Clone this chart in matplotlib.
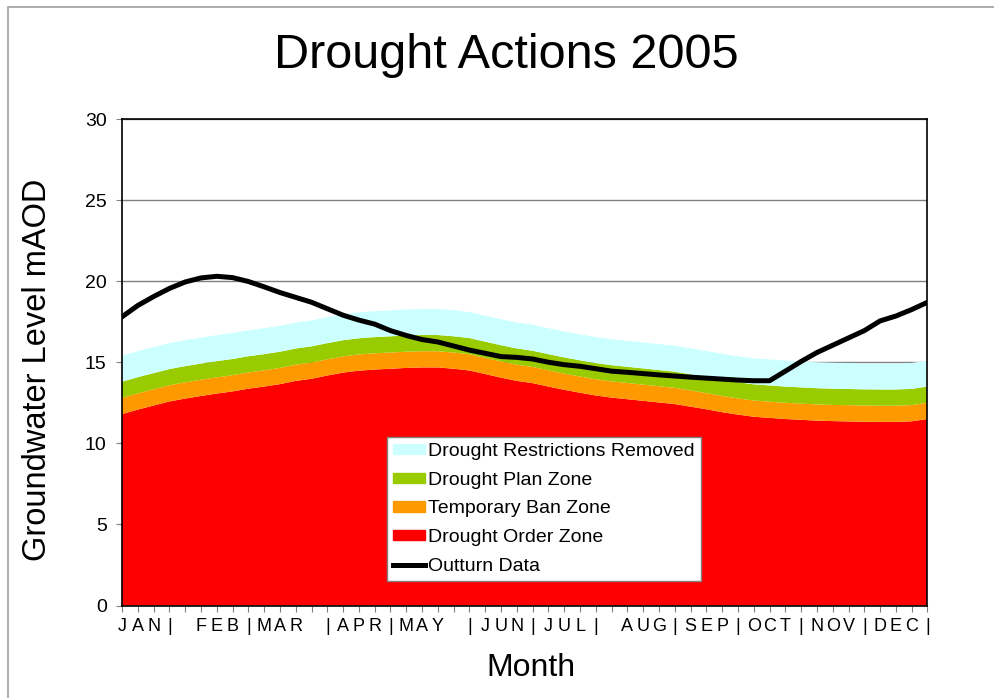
import numpy as np
import matplotlib
matplotlib.use('Agg')
import matplotlib.pyplot as plt
from matplotlib.patches import Patch, Rectangle
from matplotlib.lines import Line2D

plt.rcParams['font.family'] = ['Liberation Sans', 'DejaVu Sans']

# one character per weekly category, as on the original axis
week_labels = ['J', 'A', 'N', '|', ' ', 'F', 'E', 'B', '|', 'M', 'A', 'R', ' ',
               '|', 'A', 'P', 'R', '|', 'M', 'A', 'Y', ' ', '|', 'J', 'U', 'N',
               '|', 'J', 'U', 'L', '|', ' ', 'A', 'U', 'G', '|', 'S', 'E', 'P',
               '|', 'O', 'C', 'T', '|', 'N', 'O', 'V', '|', 'D', 'E', 'C', '|']

# zone thicknesses (stacked), mAOD
drought_order = [11.80, 12.08, 12.33, 12.58, 12.76, 12.92, 13.07, 13.20, 13.37, 13.50,
                 13.65, 13.85, 13.98, 14.18, 14.36, 14.48, 14.55, 14.60, 14.65, 14.68,
                 14.68, 14.60, 14.49, 14.27, 14.05, 13.85, 13.71, 13.50, 13.30, 13.12,
                 12.95, 12.82, 12.72, 12.62, 12.52, 12.42, 12.26, 12.10, 11.92, 11.77,
                 11.64, 11.57, 11.50, 11.45, 11.40, 11.37, 11.35, 11.33, 11.32, 11.32,
                 11.36, 11.50]
temporary_ban = [1.0, 1.0, 1.0, 1.0, 1.0, 1.0, 1.0, 1.0, 1.0, 1.0,
                 1.0, 1.0, 1.0, 1.0, 1.0, 1.0, 1.0, 1.0, 1.0, 1.0,
                 1.0, 1.0, 1.0, 1.0, 1.0, 1.0, 1.0, 1.0, 1.0, 1.0,
                 1.0, 1.0, 1.0, 1.0, 1.0, 1.0, 1.0, 1.0, 1.0, 1.0,
                 1.0, 1.0, 1.0, 1.0, 1.0, 1.0, 1.0, 1.0, 1.0, 1.0,
                 1.0, 1.0]
drought_plan = [1.0, 1.0, 1.0, 1.0, 1.0, 1.0, 1.0, 1.0, 1.0, 1.0,
                1.0, 1.0, 1.0, 1.0, 1.0, 1.0, 1.0, 1.0, 1.0, 1.0,
                1.0, 1.0, 1.0, 1.0, 1.0, 1.0, 1.0, 1.0, 1.0, 1.0,
                1.0, 1.0, 1.0, 1.0, 1.0, 1.0, 1.0, 1.0, 1.0, 1.0,
                1.0, 1.0, 1.0, 1.0, 1.0, 1.0, 1.0, 1.0, 1.0, 1.0,
                1.0, 1.0]
restrictions_removed = [1.6, 1.6, 1.6, 1.6, 1.6, 1.6, 1.6, 1.6, 1.6, 1.6,
                        1.6, 1.6, 1.6, 1.6, 1.6, 1.6, 1.6, 1.6, 1.6, 1.6,
                        1.6, 1.6, 1.6, 1.6, 1.6, 1.6, 1.6, 1.6, 1.6, 1.6,
                        1.6, 1.6, 1.6, 1.6, 1.6, 1.6, 1.6, 1.6, 1.6, 1.6,
                        1.6, 1.6, 1.6, 1.6, 1.6, 1.6, 1.6, 1.6, 1.6, 1.6,
                        1.6, 1.6]

outturn = [17.80, 18.50, 19.05, 19.55, 19.95, 20.20, 20.30, 20.22, 19.98, 19.65,
           19.30, 19.00, 18.70, 18.30, 17.90, 17.60, 17.35, 16.95, 16.65, 16.40,
           16.25, 16.00, 15.75, 15.55, 15.35, 15.30, 15.20, 15.00, 14.85, 14.75,
           14.60, 14.45, 14.38, 14.30, 14.22, 14.15, 14.08, 14.02, 13.96, 13.90,
           13.86, 13.86, 14.45, 15.05, 15.60, 16.05, 16.50, 16.95, 17.55, 17.85,
           18.25, 18.70]

colors = ['#FF0000', '#FF9900', '#99CC00', '#CCFFFF']

fig = plt.figure(figsize=(9.95, 6.98), dpi=100)
ax = fig.add_axes([122/995, 1 - 605.5/698, 805.5/995, 486.5/698])

x = np.arange(len(week_labels))
ax.stackplot(x, drought_order, temporary_ban, drought_plan, restrictions_removed,
             colors=colors, linewidth=0)
ax.plot(x, outturn, color='black', lw=3.6, solid_joinstyle='round')

ax.set_xlim(0, len(week_labels) - 1)
ax.set_ylim(0, 30)
ax.set_yticks(range(0, 31, 5))
ax.set_xticks(x)
ax.set_xticklabels(week_labels)
ax.yaxis.grid(True, color='#808080', lw=1)
ax.set_axisbelow(True)
for s in ax.spines.values():
    s.set_color('black')
    s.set_linewidth(1.2)
ax.tick_params(axis='y', labelsize=14, length=4, color='#808080', pad=7)
ax.tick_params(axis='x', labelsize=13, length=4, color='#808080', pad=5)

handles = [Patch(color=colors[3], label='Drought Restrictions Removed'),
           Patch(color=colors[2], label='Drought Plan Zone'),
           Patch(color=colors[1], label='Temporary Ban Zone'),
           Patch(color=colors[0], label='Drought Order Zone'),
           Line2D([], [], color='black', lw=3.6, label='Outturn Data')]
leg = ax.legend(handles=handles, loc='upper left', bbox_to_anchor=(0.329, 0.3466),
                borderaxespad=0, fontsize=14, frameon=True, fancybox=False,
                edgecolor='#808080', framealpha=1, handlelength=1.65,
                handleheight=0.45, handletextpad=0.15, labelspacing=0.6,
                borderpad=0.32)
leg.get_frame().set_linewidth(1.0)

fig.text(506/995, 1 - 55/698, 'Drought Actions 2005', fontsize=35,
         ha='center', va='center')
fig.text(38/995, 1 - 370/698, 'Groundwater Level mAOD', fontsize=23.5,
         rotation=90, ha='center', va='center')
fig.text(531/995, 1 - 668/698, 'Month', fontsize=23, ha='center', va='center')

# outer frame of the slide, cut off on the right and bottom
fig.add_artist(Rectangle((8/995, -0.1), 1.2, 1.1 - 7/698, fill=False,
                         edgecolor='#A0A0A0', lw=1.2, transform=fig.transFigure))

fig.savefig('out.png', dpi=100)
